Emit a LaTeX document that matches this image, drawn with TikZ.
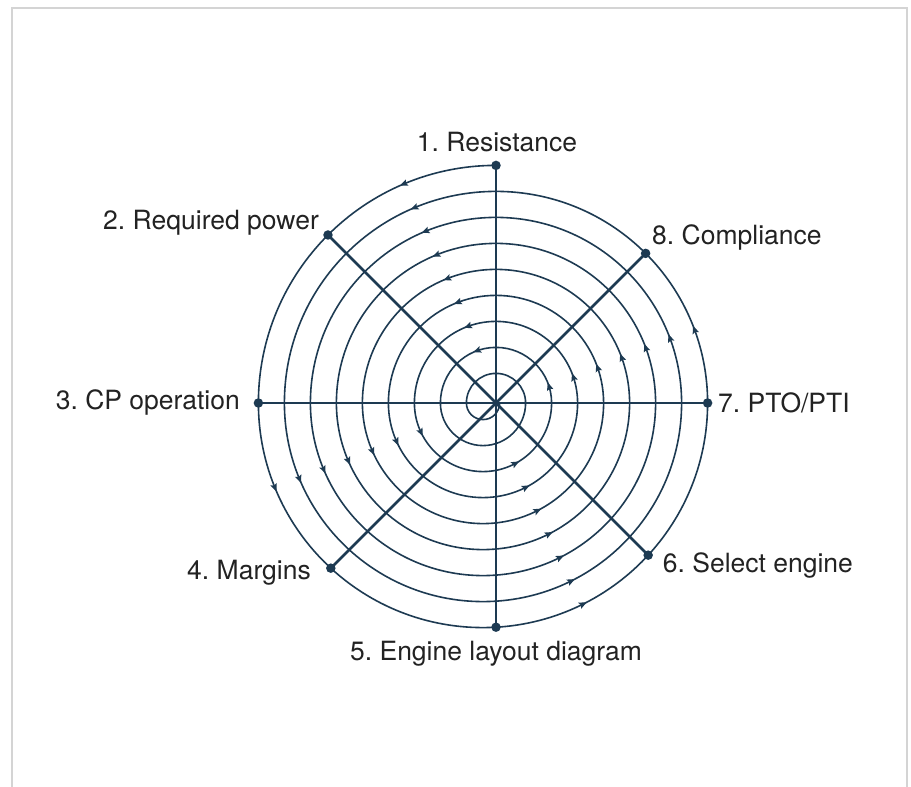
\documentclass[tikz,border=0pt]{standalone}
\usepackage{fontspec}
\setmainfont{TeX Gyre Heros}
\usetikzlibrary{calc}
\definecolor{navy}{HTML}{1D3A52}
\definecolor{txt}{HTML}{222222}
\definecolor{framegray}{HTML}{D4D4D4}
\newcommand\arrowtip[3]{\fill[navy, shift={($(#1)+(#3:#2)$)}, rotate=#3+90] (4,0) -- (-4,3.4) -- (-2.5,0) -- (-4,-3.4) -- cycle;}
\frenchspacing
\begin{document}
\begin{tikzpicture}[x=1pt,y=1pt,
  spiral/.style={navy, line width=1.6pt},
  spoke/.style={navy, line width=2.6pt},
  dot/.style={circle, fill=navy, inner sep=0pt, minimum size=9.5pt},
  lbl/.style={text=txt, font=\fontsize{26.5}{30}\selectfont, inner sep=0pt}]
\useasboundingbox (0,0) rectangle (911,787);
\draw[framegray, line width=1.5pt] (12,0) -- (12,779) -- (907,779) -- (907,0);
\coordinate (c) at (496,384);
\coordinate (cl) at (483,384);
% spiral
\draw[spiral] ($(c)+(90:237.6)$) coordinate (s0)
  arc[start angle=90, end angle=180, radius=237.6]
  arc[start angle=180, end angle=360, radius=224.6]
  arc[start angle=0, end angle=180, radius=211.6]
  arc[start angle=180, end angle=360, radius=198.6]
  arc[start angle=0, end angle=180, radius=185.6]
  arc[start angle=180, end angle=360, radius=172.6]
  arc[start angle=0, end angle=180, radius=159.6]
  arc[start angle=180, end angle=360, radius=146.6]
  arc[start angle=0, end angle=180, radius=133.6]
  arc[start angle=180, end angle=360, radius=120.6]
  arc[start angle=0, end angle=180, radius=107.6]
  arc[start angle=180, end angle=360, radius=94.6]
  arc[start angle=0, end angle=180, radius=81.6]
  arc[start angle=180, end angle=360, radius=68.6]
  arc[start angle=0, end angle=180, radius=55.6]
  arc[start angle=180, end angle=360, radius=42.6]
  arc[start angle=0, end angle=180, radius=29.6]
  arc[start angle=180, end angle=360, radius=16.6];
% arrowheads
\foreach \r/\a in {237.6/112.9, 211.6/112.7, 185.6/112.4, 159.6/112.0, 133.6/111.5, 107.6/110.9, 81.6/110.2, 55.6/110.0}
  {\arrowtip{c}{\r}{\a}}
\foreach \r/\a in {211.6/20.3, 185.6/20.5, 159.6/20.3, 133.6/20.0, 107.6/19.2, 81.6/18.6, 55.6/17.5}
  {\arrowtip{c}{\r}{\a}}
\foreach \r/\a in {224.6/202.2, 198.6/202.6, 172.6/202.8, 146.6/203.4, 120.6/203.8, 94.6/204.3, 68.6/205.5}
  {\arrowtip{cl}{\r}{\a}}
\foreach \r/\a in {224.6/296.5, 198.6/296.4, 172.6/296.6, 146.6/296.8, 120.6/297.0, 94.6/297.1, 68.6/298.4}
  {\arrowtip{cl}{\r}{\a}}
% spoke ends
\node[dot] (d1) at ($(c)+(90:237.6)$) {};
\node[dot] (d2) at ($(c)+(135:237.6)$) {};
\node[dot] (d3) at ($(c)+(180:237.6)$) {};
\node[dot] (d4) at ($(c)+(225:233.6)$) {};
\node[dot] (d5) at ($(c)+(270:224.2)$) {};
\node[dot] (d6) at ($(c)+(315:215.2)$) {};
\node[dot] (d7) at ($(c)+(0:211.6)$) {};
\node[dot] (d8) at ($(c)+(45:211.6)$) {};
\foreach \i in {1,...,8} {\draw[spoke] (c) -- (d\i.center);}
% labels
\node[lbl, anchor=base] (l1) at (497,635) {1. Resistance};
\node[lbl, anchor=base east] (l2) at (319,557.7) {2. Required power};
\node[lbl, anchor=base east] (l3) at (240,377) {3. CP operation};
\node[lbl, anchor=base east] (l4) at (311,207) {4. Margins};
\node[lbl, anchor=base] (l5) at (496,126.7) {5. Engine layout diagram};
\node[lbl, anchor=base west] (l6) at (662.7,214.7) {6. Select engine};
\node[lbl, anchor=base west] (l7) at (718,374.7) {7. PTO/PTI};
\node[lbl, anchor=base west] (l8) at (652,542) {8. Compliance};
\end{tikzpicture}
\end{document}
